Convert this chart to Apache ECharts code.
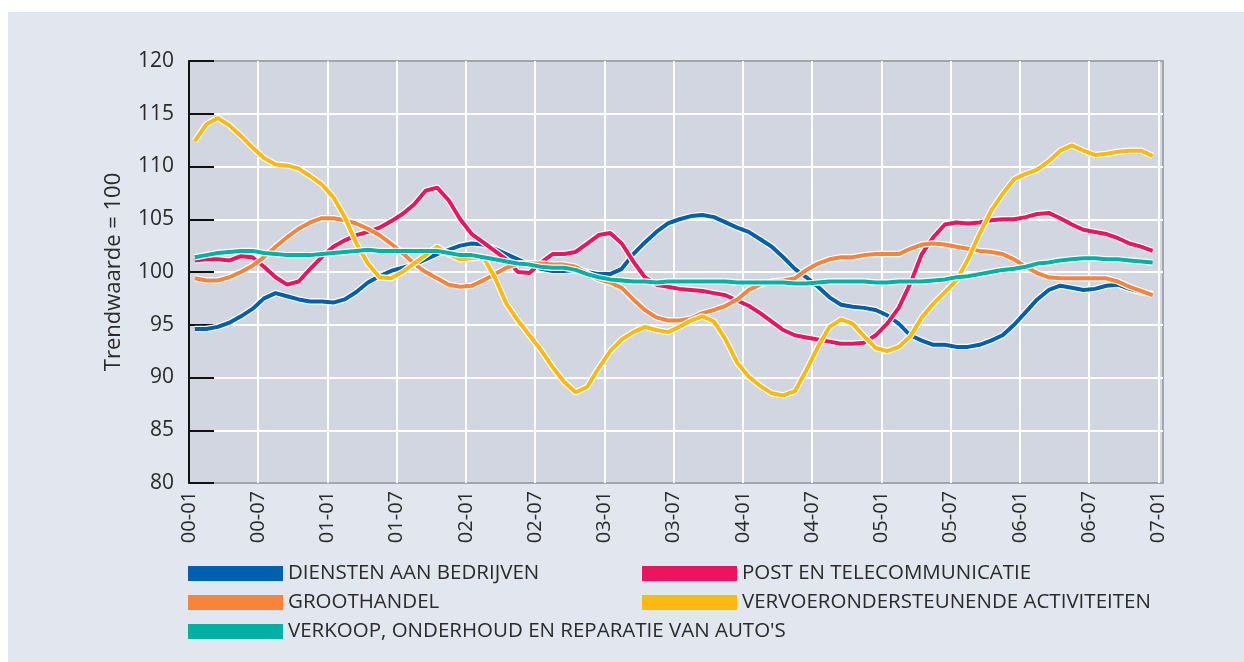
<!DOCTYPE html>
<html>
<head>
<meta charset="utf-8">
<script src="https://cdn.jsdelivr.net/npm/echarts@6/dist/echarts.min.js"></script>
<style>
  html, body { margin: 0; padding: 0; background: #fff; }
  #chart { position: absolute; left: 8px; top: 12px; width: 1236px; height: 650px; }
</style>
</head>
<body>
<div id="chart"></div>
<script>
// tick labels (every 6 months), months of the x axis
var tickLabels = ['00-01', '00-07', '01-01', '01-07', '02-01', '02-07', '03-01', '03-07',
  '04-01', '04-07', '05-01', '05-07', '06-01', '06-07', '07-01'];

// trendwaarde per maand, jan 2000 t/m dec 2006
var diensten = [94.6, 94.6, 94.8, 95.2, 95.8, 96.5, 97.5, 98.0, 97.7, 97.4,
  97.2, 97.2, 97.1, 97.4, 98.1, 99.0, 99.6, 100.1, 100.4, 100.7,
  101.2, 101.7, 102.1, 102.5, 102.7, 102.6, 102.2, 101.7, 101.2, 100.7,
  100.3, 100.1, 100.1, 100.2, 100.0, 99.8, 99.8, 100.3, 101.7, 102.8,
  103.8, 104.6, 105.0, 105.3, 105.4, 105.2, 104.7, 104.2, 103.8, 103.1,
  102.4, 101.4, 100.3, 99.5, 98.6, 97.6, 96.9, 96.7, 96.6, 96.4,
  95.9, 95.1, 94.0, 93.5, 93.1, 93.1, 92.9, 92.9, 93.1, 93.5,
  94.0, 95.0, 96.2, 97.4, 98.3, 98.7, 98.5, 98.3, 98.4, 98.7,
  98.8, 98.4, 98.1, 97.9];

var post = [101.1, 101.2, 101.2, 101.1, 101.5, 101.4, 100.5, 99.5, 98.8, 99.1,
  100.3, 101.4, 102.4, 103.0, 103.5, 103.8, 104.2, 104.8, 105.5, 106.4,
  107.7, 108.0, 106.8, 105.0, 103.6, 102.8, 102.0, 101.2, 100.0, 99.9,
  100.9, 101.7, 101.7, 101.9, 102.7, 103.5, 103.7, 102.7, 101.0, 99.5,
  98.8, 98.6, 98.4, 98.3, 98.2, 98.0, 97.8, 97.3, 96.8, 96.1,
  95.3, 94.5, 94.0, 93.8, 93.6, 93.4, 93.2, 93.2, 93.3, 94.0,
  95.1, 96.6, 98.9, 101.7, 103.3, 104.5, 104.7, 104.6, 104.7, 104.9,
  105.0, 105.0, 105.2, 105.5, 105.6, 105.1, 104.5, 104.0, 103.8, 103.6,
  103.2, 102.7, 102.4, 102.0];

var groothandel = [99.4, 99.2, 99.2, 99.5, 100.0, 100.6, 101.4, 102.4, 103.3, 104.1,
  104.7, 105.1, 105.1, 104.9, 104.6, 104.1, 103.5, 102.7, 101.8, 100.8,
  100.0, 99.4, 98.8, 98.6, 98.7, 99.2, 99.8, 100.4, 100.8, 100.8,
  100.8, 100.7, 100.7, 100.5, 99.9, 99.3, 99.0, 98.5, 97.4, 96.4,
  95.7, 95.4, 95.4, 95.6, 96.1, 96.4, 96.8, 97.4, 98.3, 98.8,
  99.1, 99.2, 99.4, 100.2, 100.8, 101.2, 101.4, 101.4, 101.6, 101.7,
  101.7, 101.7, 102.2, 102.6, 102.7, 102.6, 102.4, 102.2, 102.0, 101.9,
  101.7, 101.2, 100.5, 99.9, 99.5, 99.4, 99.4, 99.4, 99.4, 99.4,
  99.1, 98.6, 98.2, 97.8];

var vervoer = [112.4, 114.0, 114.6, 113.9, 112.9, 111.8, 110.8, 110.2, 110.1, 109.8,
  109.1, 108.3, 107.1, 105.2, 102.7, 100.8, 99.5, 99.4, 100.0, 100.8,
  101.6, 102.4, 101.7, 101.2, 101.3, 101.4, 99.5, 97.0, 95.4, 94.0,
  92.6, 91.0, 89.6, 88.6, 89.1, 90.9, 92.5, 93.6, 94.3, 94.8,
  94.5, 94.3, 94.8, 95.4, 95.8, 95.3, 93.6, 91.4, 90.1, 89.2,
  88.5, 88.3, 88.7, 90.7, 92.9, 94.8, 95.5, 95.1, 93.9, 92.8,
  92.5, 92.9, 93.9, 95.7, 97.0, 98.1, 99.2, 101.2, 103.6, 105.8,
  107.4, 108.8, 109.3, 109.7, 110.5, 111.5, 112.0, 111.5, 111.1, 111.2,
  111.4, 111.5, 111.5, 111.0];

var verkoop = [101.4, 101.6, 101.8, 101.9, 102.0, 102.0, 101.8, 101.7, 101.6, 101.6,
  101.6, 101.7, 101.8, 101.9, 102.0, 102.1, 102.0, 102.0, 102.0, 102.0,
  102.0, 102.0, 101.8, 101.6, 101.6, 101.4, 101.2, 101.0, 100.8, 100.7,
  100.5, 100.4, 100.4, 100.2, 99.8, 99.5, 99.3, 99.2, 99.1, 99.1,
  99.0, 99.1, 99.1, 99.1, 99.1, 99.1, 99.1, 99.0, 99.0, 99.0,
  99.0, 99.0, 98.9, 98.9, 99.0, 99.1, 99.1, 99.1, 99.1, 99.0,
  99.0, 99.1, 99.1, 99.1, 99.2, 99.3, 99.5, 99.6, 99.8, 100.0,
  100.2, 100.3, 100.5, 100.8, 100.9, 101.1, 101.2, 101.3, 101.3, 101.2,
  101.2, 101.1, 101.0, 100.9];

var names = ['DIENSTEN AAN BEDRIJVEN', 'POST EN TELECOMMUNICATIE', 'GROOTHANDEL',
  'VERVOERONDERSTEUNENDE ACTIVITEITEN', "VERKOOP, ONDERHOUD EN REPARATIE VAN AUTO'S"];
var colors = ['#0060ae', '#ec135f', '#f7843c', '#fdb913', '#00b2a4'];
var values = [diensten, post, groothandel, vervoer, verkoop];

// punten liggen midden in de maand
function toPoints(arr) {
  return arr.map(function (v, i) { return [i + 0.5, v]; });
}

var series = [];
values.forEach(function (arr, k) {
  // witte rand onder de lijn
  series.push({
    type: 'line',
    name: 'halo' + k,
    data: toPoints(arr),
    showSymbol: false,
    silent: true,
    lineStyle: { color: '#ffffff', width: 6.4 }
  });
  series.push({
    type: 'line',
    name: names[k],
    data: toPoints(arr),
    showSymbol: false,
    color: colors[k],
    lineStyle: { color: colors[k], width: 4 }
  });
});

var legendText = { color: '#2a2a2a', fontSize: 20.5, fontFamily: 'Open Sans' };

var chart = echarts.init(document.getElementById('chart'));
chart.setOption({
  backgroundColor: '#e2e6ee',
  animation: false,
  textStyle: { fontFamily: 'Open Sans' },
  grid: {
    left: 181, right: 81, top: 49, bottom: 179,
    show: true,
    backgroundColor: '#d2d6e0',
    borderColor: '#a3a6ab',
    borderWidth: 2
  },
  legend: [{
    left: 175, top: 546,
    orient: 'vertical',
    icon: 'rect',
    itemWidth: 95, itemHeight: 15, itemGap: 8,
    textStyle: legendText,
    data: [names[0], names[2], names[4]]
  }, {
    left: 629, top: 546,
    orient: 'vertical',
    icon: 'rect',
    itemWidth: 95, itemHeight: 15, itemGap: 8,
    textStyle: legendText,
    data: [names[1], names[3]]
  }],
  xAxis: {
    type: 'value',
    min: 0, max: 84.4, interval: 6,
    axisLine: { show: false },
    axisTick: { show: false },
    axisLabel: {
      rotate: 90,
      margin: 8,
      fontSize: 20,
      color: '#2a2a2a',
      formatter: function (v) {
        return v % 6 === 0 ? tickLabels[v / 6] : '';
      }
    },
    splitLine: {
      show: true, showMinLine: false, showMaxLine: false,
      lineStyle: { color: '#ffffff', width: 2 }
    }
  },
  yAxis: {
    type: 'value',
    min: 80, max: 120, interval: 5,
    name: 'Trendwaarde = 100',
    nameLocation: 'middle',
    nameGap: 64,
    nameTextStyle: { fontSize: 22, color: '#2a2a2a' },
    axisLine: { show: true, lineStyle: { color: '#111', width: 2 } },
    axisTick: { show: true, inside: true, length: 25, lineStyle: { color: '#111', width: 2 } },
    axisLabel: { fontSize: 21, color: '#2a2a2a', margin: 15 },
    splitLine: {
      show: true, showMinLine: false, showMaxLine: false,
      lineStyle: { color: '#ffffff', width: 2 }
    }
  },
  series: series
});
</script>
</body>
</html>
